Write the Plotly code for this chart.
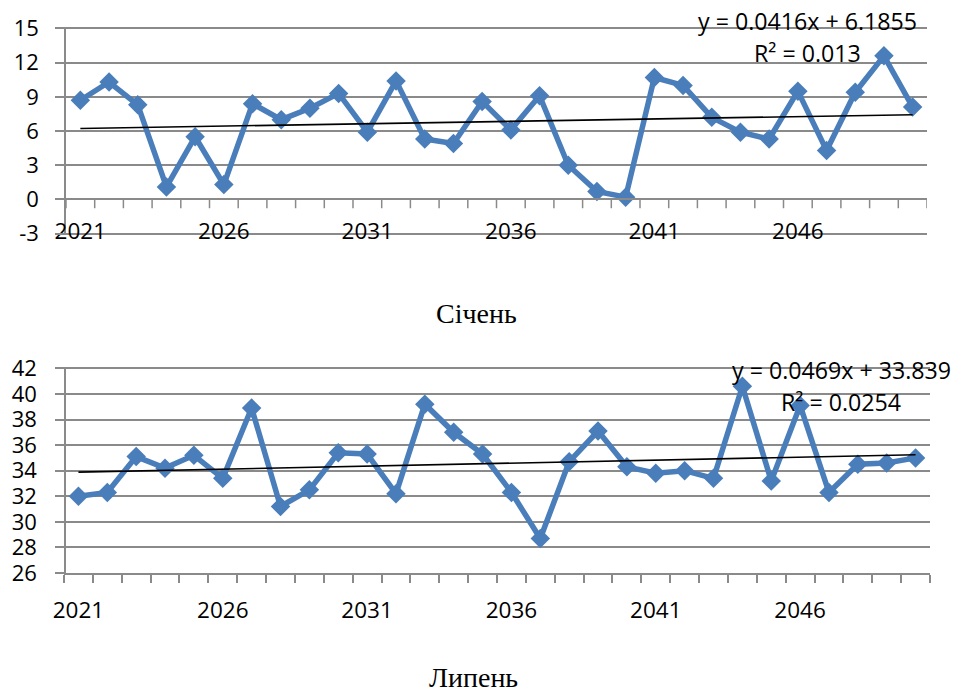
import plotly.graph_objects as go

# ---------------- data ----------------
years = list(range(2021, 2051))
label_years = [2021, 2026, 2031, 2036, 2041, 2046]

jan = [8.7, 10.3, 8.3, 1.1, 5.5, 1.3, 8.4, 7.0, 8.0, 9.3,
       5.9, 10.4, 5.3, 4.9, 8.6, 6.1, 9.1, 3.0, 0.7, 0.2,
       10.7, 10.0, 7.2, 5.9, 5.3, 9.5, 4.3, 9.4, 12.6, 8.1]
jul = [32.0, 32.3, 35.1, 34.2, 35.2, 33.4, 38.9, 31.2, 32.5, 35.4,
       35.3, 32.2, 39.2, 37.0, 35.3, 32.3, 28.7, 34.7, 37.1, 34.3,
       33.8, 34.0, 33.4, 40.6, 33.2, 39.1, 32.3, 34.5, 34.6, 35.0]

jan_trend = [0.0416, 6.1855]   # slope, intercept (x = 1..30)
jul_trend = [0.0469, 33.839]
jan_eq = ["y = 0.0416x + 6.1855", "R² = 0.013"]
jul_eq = ["y = 0.0469x + 33.839", "R² = 0.0254"]
titles = ["Січень", "Липень"]

jan_ticks = [-3, 0, 3, 6, 9, 12, 15]
jul_ticks = [26, 28, 30, 32, 34, 36, 38, 40, 42]

# ---------------- styling ----------------
BLUE = "#4A7EBB"
GRAY = "#8A8A8A"
LW = 1.5
AXFONT = dict(family="Open Sans", size=22, color="#000000")
XFONT = dict(family="Open Sans", size=22.5, color="#000000")
EQFONT = dict(family="Open Sans", size=23.2, color="#000000")
TFONT = dict(family="Liberation Serif", size=28, color="#000000")

W, H = 958, 693
ML, MR, MT, MB = 62, 28, 22, 120
PW, PH = W - ML - MR, H - MT - MB

def px_x(p):
    return (p - ML) / PW

def px_y(p):
    return 1 - (p - MT) / PH

top_px = [22, 232]
bot_px = [365, 573]
top_dom = [px_y(top_px[1]), px_y(top_px[0])]
bot_dom = [px_y(bot_px[1]), px_y(bot_px[0])]

# tiny padding (1.5 px) so that the edge grid lines are kept
top_u = (jan_ticks[-1] - jan_ticks[0]) / (top_px[1] - top_px[0])
bot_u = (jul_ticks[-1] - jul_ticks[0]) / (bot_px[1] - bot_px[0])
jan_range = [jan_ticks[0] - 1.5 * top_u, jan_ticks[-1] + 1.5 * top_u]
jul_range = [jul_ticks[0], jul_ticks[-1] + 1.5 * bot_u]

idx = list(range(1, len(years) + 1))
jan_fit = [jan_trend[0] * i + jan_trend[1] for i in idx]
jul_fit = [jul_trend[0] * i + jul_trend[1] for i in idx]
bounds = [y - 0.5 for y in years] + [years[-1] + 0.5]

fig = go.Figure()
line_kw = dict(mode="lines+markers", line=dict(color=BLUE, width=5.5),
               marker=dict(symbol="diamond", size=15, color=BLUE),
               showlegend=False, hoverinfo="x+y")
fig.add_trace(go.Scatter(x=years, y=jan, xaxis="x", yaxis="y", **line_kw))
fig.add_trace(go.Scatter(x=years, y=jan_fit, xaxis="x", yaxis="y", mode="lines",
                         line=dict(color="black", width=1.6), showlegend=False))
fig.add_trace(go.Scatter(x=years, y=jul, xaxis="x2", yaxis="y2", **line_kw))
fig.add_trace(go.Scatter(x=years, y=jul_fit, xaxis="x2", yaxis="y2", mode="lines",
                         line=dict(color="black", width=1.6), showlegend=False))

# x axis of top chart crosses at value 0
zero_pos = top_dom[0] + (top_dom[1] - top_dom[0]) * (0 - jan_range[0]) / (jan_range[1] - jan_range[0])
# tick marks on the crossing axis (9 px long, downward)
shapes = [dict(type="line", xref="x", yref="y", x0=b, x1=b, y0=0, y1=-9 * top_u,
               layer="below", line=dict(color=GRAY, width=LW)) for b in bounds]

xcommon = dict(range=[bounds[0], bounds[-1]], tickvals=label_years, ticks="",
               showgrid=False, zeroline=False, showline=True, linecolor=GRAY, linewidth=LW,
               tickfont=XFONT, fixedrange=True)
ycommon = dict(ticks="outside", ticklen=9, tickcolor=GRAY, tickwidth=LW, showgrid=True,
               gridcolor=GRAY, gridwidth=LW, showline=True, linecolor=GRAY, linewidth=LW,
               zeroline=False, tickfont=AXFONT, fixedrange=True)

fig.update_layout(
    width=W, height=H,
    margin=dict(l=ML, r=MR, t=MT, b=MB),
    paper_bgcolor="white", plot_bgcolor="white",
    xaxis=dict(domain=[px_x(64), px_x(927)], anchor="free", position=zero_pos,
               ticklabelstandoff=12, **xcommon),
    yaxis=dict(domain=top_dom, range=jan_range, tickvals=jan_ticks,
               ticktext=[str(v) for v in jan_ticks], ticklabelstandoff=12, **ycommon),
    xaxis2=dict(domain=[px_x(62), px_x(930)], anchor="y2", ticklabelstandoff=16,
                minor=dict(tickvals=bounds, ticks="outside", ticklen=8, tickcolor=GRAY,
                           tickwidth=LW, showgrid=False), **xcommon),
    yaxis2=dict(domain=bot_dom, range=jul_range, tickvals=jul_ticks,
                ticktext=[str(v) for v in jul_ticks], ticklabelstandoff=14, **ycommon),
    shapes=shapes,
    annotations=[
        dict(text=jan_eq[0], x=px_x(807), y=px_y(16), xref="paper", yref="paper",
             xanchor="center", yanchor="middle", showarrow=False, font=EQFONT),
        dict(text=jan_eq[1], x=px_x(807), y=px_y(48), xref="paper", yref="paper",
             xanchor="center", yanchor="middle", showarrow=False, font=EQFONT),
        dict(text=jul_eq[0], x=px_x(841), y=px_y(368), xref="paper", yref="paper",
             xanchor="center", yanchor="middle", showarrow=False, font=EQFONT),
        dict(text=jul_eq[1], x=px_x(841), y=px_y(400), xref="paper", yref="paper",
             xanchor="center", yanchor="middle", showarrow=False, font=EQFONT),
        dict(text=titles[0], x=px_x(475), y=px_y(311), xref="paper", yref="paper",
             xanchor="center", yanchor="middle", showarrow=False, font=TFONT),
        dict(text=titles[1], x=px_x(472), y=px_y(678), xref="paper", yref="paper",
             xanchor="center", yanchor="middle", showarrow=False, font=TFONT),
    ],
)

fig.write_html("out.html", config={"displayModeBar": False})
